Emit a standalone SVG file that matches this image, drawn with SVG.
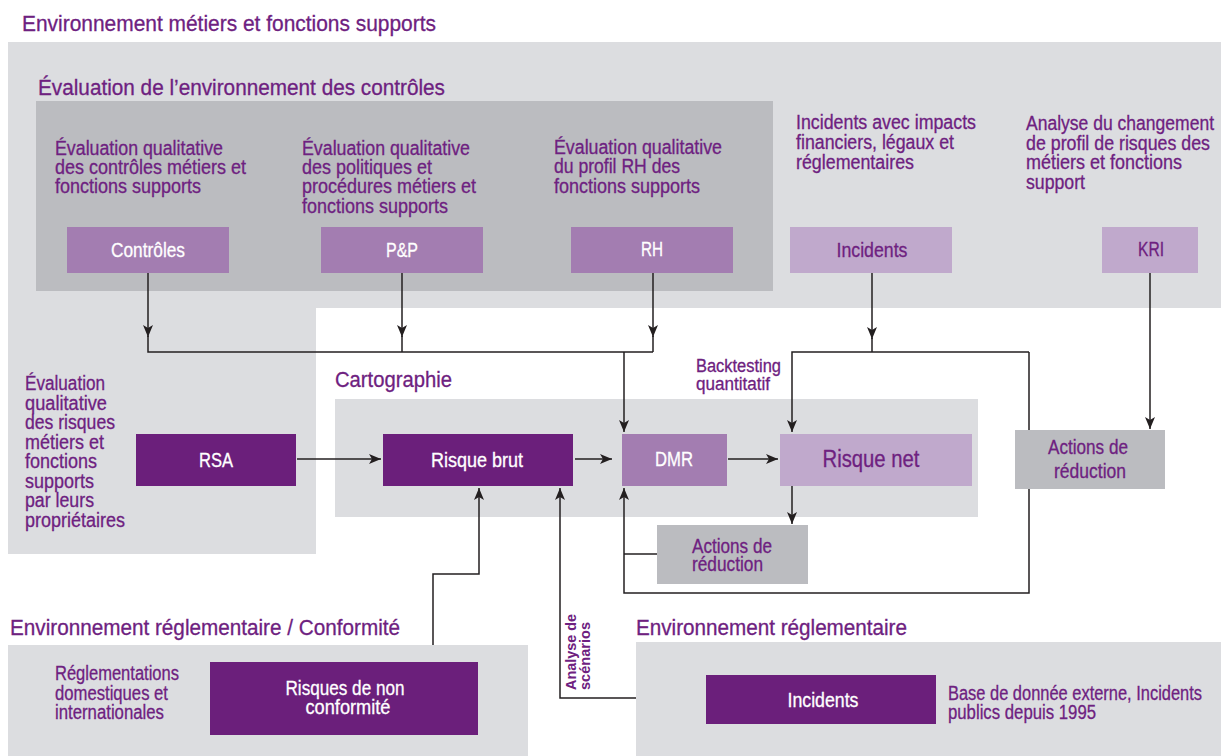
<svg xmlns="http://www.w3.org/2000/svg" width="1221" height="756" viewBox="0 0 1221 756">
<defs>
<style>
text{font-family:"Liberation Sans Narrow","Liberation Sans",Arial,sans-serif;}
.t{fill:#6e2180;font-size:20px;stroke:#6e2180;stroke-width:0.3px}
.h{fill:#6e2180;font-size:22px;stroke:#6e2180;stroke-width:0.3px}
.w{fill:#ffffff;font-size:20px;stroke:#ffffff;stroke-width:0.3px}
.c{text-anchor:middle}
.ln{fill:none;stroke:#231f20;stroke-width:1.5}
.a{marker-end:url(#ar)}
.dp{fill:#6b1f7b}.mp{fill:#a37db1}.lp{fill:#c0a9cc}.lg{fill:#dcdde0}.dg{fill:#bbbcc0}
.rot{font-family:"Liberation Sans",Arial,sans-serif;font-size:14px;font-weight:bold;fill:#6e2180}
</style>
<marker id="ar" viewBox="0 0 12 10" markerWidth="12" markerHeight="10" refX="12" refY="5" orient="auto" markerUnits="userSpaceOnUse"><path d="M0,0 L12,5 L0,10 L3,5 z" fill="#231f20"/></marker>
</defs>
<rect width="1221" height="756" fill="#ffffff"/>

<g id="areas">
<path class="lg" d="M8,42 H1221 V308 H316 V554 H8 Z"/>
<rect class="dg" x="36" y="101" width="737" height="190"/>
<rect class="lg" x="335" y="399" width="643" height="118"/>
<rect class="lg" x="8" y="645" width="520" height="111"/>
<rect class="lg" x="636" y="642" width="585" height="114"/>
</g>

<g id="titles">
<text class="h" x="22" y="31" textLength="414" lengthAdjust="spacingAndGlyphs">Environnement métiers et fonctions supports</text>
<text class="h" x="38" y="95" textLength="407" lengthAdjust="spacingAndGlyphs">Évaluation de l’environnement des contrôles</text>
<text class="h" x="335" y="387" textLength="117" lengthAdjust="spacingAndGlyphs">Cartographie</text>
<text class="h" x="10" y="635" textLength="390" lengthAdjust="spacingAndGlyphs">Environnement réglementaire / Conformité</text>
<text class="h" x="636" y="635" textLength="271" lengthAdjust="spacingAndGlyphs">Environnement réglementaire</text>
</g>

<g id="connectors">
<path class="ln a" d="M148,273 V337"/>
<path class="ln" d="M148,336 V352 H653"/>
<path class="ln a" d="M402,273 V337"/>
<path class="ln" d="M402,336 V352"/>
<path class="ln a" d="M653,273 V337"/>
<path class="ln" d="M653,336 V352"/>
<path class="ln a" d="M624,352 V432"/>
<path class="ln a" d="M872,273 V339"/>
<path class="ln" d="M872,338 V352"/>
<path class="ln a" d="M1029,352 H792 V432"/>
<path class="ln a" d="M1029,352 V593 H624 V488"/>
<path class="ln" d="M657,554 H624"/>
<path class="ln a" d="M792,486 V524"/>
<path class="ln a" d="M1150,273 V429"/>
<path class="ln a" d="M297,459 H381"/>
<path class="ln a" d="M575,459 H612"/>
<path class="ln a" d="M728,459 H778"/>
<path class="ln a" d="M433,645 V574 H479 V488"/>
<path class="ln a" d="M636,698 H560 V488"/>
</g>

<g id="label-controles">
<text class="t" x="55" y="155" textLength="168" lengthAdjust="spacingAndGlyphs">Évaluation qualitative</text>
<text class="t" x="55" y="174" textLength="191" lengthAdjust="spacingAndGlyphs">des contrôles métiers et</text>
<text class="t" x="55" y="193" textLength="146" lengthAdjust="spacingAndGlyphs">fonctions supports</text>
</g>
<g id="label-pp">
<text class="t" x="302" y="155" textLength="168" lengthAdjust="spacingAndGlyphs">Évaluation qualitative</text>
<text class="t" x="302" y="174" textLength="130" lengthAdjust="spacingAndGlyphs">des politiques et</text>
<text class="t" x="302" y="193" textLength="174" lengthAdjust="spacingAndGlyphs">procédures métiers et</text>
<text class="t" x="302" y="213" textLength="146" lengthAdjust="spacingAndGlyphs">fonctions supports</text>
</g>
<g id="label-rh">
<text class="t" x="554" y="154" textLength="168" lengthAdjust="spacingAndGlyphs">Évaluation qualitative</text>
<text class="t" x="554" y="173" textLength="126" lengthAdjust="spacingAndGlyphs">du profil RH des</text>
<text class="t" x="554" y="193" textLength="146" lengthAdjust="spacingAndGlyphs">fonctions supports</text>
</g>
<g id="label-incidents">
<text class="t" x="796" y="129" textLength="180" lengthAdjust="spacingAndGlyphs">Incidents avec impacts</text>
<text class="t" x="796" y="149" textLength="158" lengthAdjust="spacingAndGlyphs">financiers, légaux et</text>
<text class="t" x="796" y="169" textLength="118" lengthAdjust="spacingAndGlyphs">réglementaires</text>
</g>
<g id="label-kri">
<text class="t" x="1026" y="130" textLength="188" lengthAdjust="spacingAndGlyphs">Analyse du changement</text>
<text class="t" x="1026" y="150" textLength="184" lengthAdjust="spacingAndGlyphs">de profil de risques des</text>
<text class="t" x="1026" y="169" textLength="156" lengthAdjust="spacingAndGlyphs">métiers et fonctions</text>
<text class="t" x="1026" y="189" textLength="59" lengthAdjust="spacingAndGlyphs">support</text>
</g>
<g id="label-rsa">
<text class="t" x="25" y="390" textLength="80" lengthAdjust="spacingAndGlyphs">Évaluation</text>
<text class="t" x="25" y="409.5" textLength="82" lengthAdjust="spacingAndGlyphs">qualitative</text>
<text class="t" x="25" y="429" textLength="90" lengthAdjust="spacingAndGlyphs">des risques</text>
<text class="t" x="25" y="448.5" textLength="79" lengthAdjust="spacingAndGlyphs">métiers et</text>
<text class="t" x="25" y="468" textLength="72" lengthAdjust="spacingAndGlyphs">fonctions</text>
<text class="t" x="25" y="487.5" textLength="69" lengthAdjust="spacingAndGlyphs">supports</text>
<text class="t" x="25" y="507" textLength="69" lengthAdjust="spacingAndGlyphs">par leurs</text>
<text class="t" x="25" y="526.5" textLength="100" lengthAdjust="spacingAndGlyphs">propriétaires</text>
</g>
<g id="label-backtesting">
<text class="t" x="696" y="372" style="font-size:18px" textLength="85" lengthAdjust="spacingAndGlyphs">Backtesting</text>
<text class="t" x="696" y="390" style="font-size:18px" textLength="74" lengthAdjust="spacingAndGlyphs">quantitatif</text>
</g>
<g id="label-scenarios">
<text class="rot" transform="translate(576,690) rotate(-90)" textLength="76" lengthAdjust="spacingAndGlyphs">Analyse de</text>
<text class="rot" transform="translate(590,690) rotate(-90)" textLength="68" lengthAdjust="spacingAndGlyphs">scénarios</text>
</g>
<g id="label-reglementations">
<text class="t" x="55" y="680" textLength="124" lengthAdjust="spacingAndGlyphs">Réglementations</text>
<text class="t" x="55" y="700" textLength="113" lengthAdjust="spacingAndGlyphs">domestiques et</text>
<text class="t" x="55" y="719" textLength="109" lengthAdjust="spacingAndGlyphs">internationales</text>
</g>
<g id="label-base">
<text class="t" x="948" y="700" textLength="254" lengthAdjust="spacingAndGlyphs">Base de donnée externe, Incidents</text>
<text class="t" x="948" y="719" textLength="148" lengthAdjust="spacingAndGlyphs">publics depuis 1995</text>
</g>

<g id="node-controles">
<rect class="mp" x="67" y="227" width="162" height="46"/>
<text class="w c" x="148" y="257" textLength="74" lengthAdjust="spacingAndGlyphs">Contrôles</text>
</g>
<g id="node-pp">
<rect class="mp" x="321" y="227" width="162" height="46"/>
<text class="w c" x="402" y="257" textLength="32" lengthAdjust="spacingAndGlyphs">P&amp;P</text>
</g>
<g id="node-rh">
<rect class="mp" x="571" y="227" width="162" height="46"/>
<text class="w c" x="652" y="256" textLength="22" lengthAdjust="spacingAndGlyphs">RH</text>
</g>
<g id="node-incidents-top">
<rect class="lp" x="790" y="227" width="162" height="46"/>
<text class="t c" x="872" y="257" textLength="71" lengthAdjust="spacingAndGlyphs">Incidents</text>
</g>
<g id="node-kri">
<rect class="lp" x="1102" y="227" width="96" height="46"/>
<text class="t c" x="1151" y="256" textLength="26" lengthAdjust="spacingAndGlyphs">KRI</text>
</g>
<g id="node-rsa">
<rect class="dp" x="136" y="434" width="160" height="52"/>
<text class="w c" x="216" y="467" textLength="34" lengthAdjust="spacingAndGlyphs">RSA</text>
</g>
<g id="node-risque-brut">
<rect class="dp" x="383" y="434" width="190" height="52"/>
<text class="w c" x="477" y="467" textLength="92" lengthAdjust="spacingAndGlyphs">Risque brut</text>
</g>
<g id="node-dmr">
<rect class="mp" x="622" y="434" width="105" height="52"/>
<text class="w c" x="674" y="466" textLength="38" lengthAdjust="spacingAndGlyphs">DMR</text>
</g>
<g id="node-risque-net">
<rect class="lp" x="780" y="434" width="192" height="52"/>
<text class="t c" x="871" y="467" style="font-size:23px" textLength="97" lengthAdjust="spacingAndGlyphs">Risque net</text>
</g>
<g id="node-actions-right">
<rect class="dg" x="1015" y="430" width="150" height="59"/>
<text class="t c" x="1088" y="454" textLength="80" lengthAdjust="spacingAndGlyphs">Actions de</text>
<text class="t c" x="1090" y="478" textLength="72" lengthAdjust="spacingAndGlyphs">réduction</text>
</g>
<g id="node-actions-low">
<rect class="dg" x="657" y="525" width="151" height="59"/>
<text class="t" x="692" y="553" textLength="80" lengthAdjust="spacingAndGlyphs">Actions de</text>
<text class="t" x="692" y="571" textLength="71" lengthAdjust="spacingAndGlyphs">réduction</text>
</g>
<g id="node-non-conformite">
<rect class="dp" x="210" y="662" width="268" height="73"/>
<text class="w c" x="345" y="695" textLength="119" lengthAdjust="spacingAndGlyphs">Risques de non</text>
<text class="w c" x="348" y="714" textLength="85" lengthAdjust="spacingAndGlyphs">conformité</text>
</g>
<g id="node-incidents-ext">
<rect class="dp" x="706" y="675" width="230" height="49"/>
<text class="w c" x="823" y="707" textLength="71" lengthAdjust="spacingAndGlyphs">Incidents</text>
</g>
</svg>
